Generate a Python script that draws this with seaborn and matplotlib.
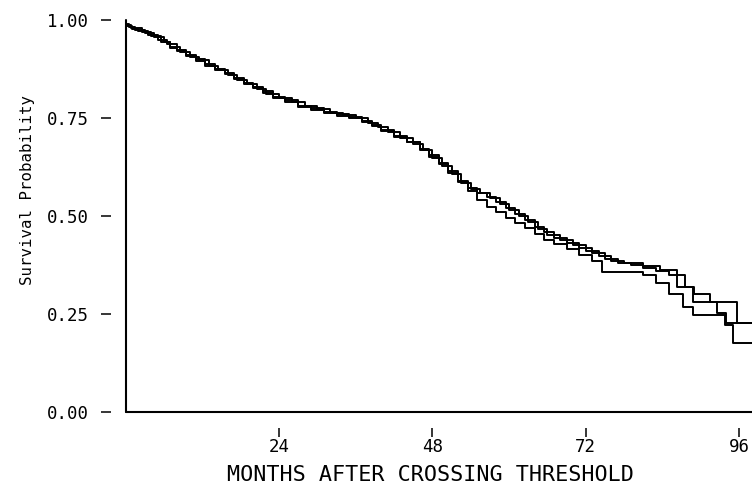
import numpy as np
import matplotlib.pyplot as plt
import pandas as pd
import seaborn as sns

sns.set_style("ticks")
plt.rcParams["font.family"] = ["DejaVu Sans Mono", "DejaVu Sans"]
plt.rcParams["text.color"] = "black"
plt.rcParams["axes.labelcolor"] = "black"
plt.rcParams["xtick.color"] = "black"
plt.rcParams["ytick.color"] = "black"

# survival curves (month, probability), three groups
months_a = [0, 0.5, 1.5, 3, 4.5, 6, 7, 8.5, 10, 11.5, 13, 14.5, 16, 17.5, 19, 20.5, 22, 24, 26, 28,
            30, 32, 34, 36, 38, 39.5, 41, 43, 45, 46.5, 48, 49.5, 51, 52.5, 54, 55.5, 57, 58.5, 60,
            61.5, 63, 64.5, 66, 68, 70, 72, 74, 76, 78, 81, 83.6, 86.2, 88.7, 92.5, 94, 98]
surv_a = [0.99, 0.982, 0.975, 0.968, 0.958, 0.945, 0.932, 0.918, 0.905, 0.897, 0.882, 0.872, 0.86,
          0.848, 0.836, 0.825, 0.812, 0.80, 0.79, 0.78, 0.772, 0.764, 0.757, 0.75, 0.738, 0.727,
          0.715, 0.70, 0.685, 0.668, 0.648, 0.628, 0.607, 0.585, 0.568, 0.558, 0.545, 0.53, 0.515,
          0.50, 0.485, 0.466, 0.452, 0.44, 0.425, 0.412, 0.398, 0.385, 0.38, 0.372, 0.362,
          0.319, 0.28, 0.253, 0.227, 0.227]

months_b = [0, 1, 2, 3.5, 5, 6.5, 8, 9.5, 11, 12.5, 14, 15.5, 17, 18.5, 20, 21.5, 23, 25, 27, 29,
            31, 33, 35, 37, 38.5, 40, 42, 44, 46, 47.5, 49, 50.5, 52, 53.5, 55, 56.5, 58, 59.5,
            61, 62.5, 64, 65.5, 67, 69, 71, 73, 75, 77, 79, 81, 83, 85, 87.5, 89, 91.5, 95.6, 98]
surv_b = [0.985, 0.978, 0.972, 0.962, 0.95, 0.938, 0.925, 0.91, 0.9, 0.888, 0.876, 0.865, 0.852,
          0.84, 0.83, 0.818, 0.805, 0.795, 0.782, 0.775, 0.766, 0.76, 0.752, 0.742, 0.732, 0.72,
          0.705, 0.69, 0.672, 0.655, 0.635, 0.615, 0.59, 0.572, 0.56, 0.548, 0.535, 0.52, 0.505,
          0.49, 0.472, 0.458, 0.445, 0.432, 0.418, 0.405, 0.39, 0.38, 0.375, 0.368, 0.36, 0.35,
          0.32, 0.30, 0.28, 0.227, 0.227]

months_c = [0, 0.8, 2.5, 4, 5.5, 7, 8, 9.5, 11, 12.5, 14, 15.5, 17, 18.5, 20, 21.5, 23, 25, 27, 29,
            31, 33, 35, 37, 38.5, 40, 42, 44, 46, 47.5, 49, 50.5, 52, 53.5, 55, 56.5, 58, 59.5,
            61, 62.5, 64, 65.5, 67, 69, 71, 73, 74.5, 81, 83, 85, 87.2, 88.7, 93.7, 95, 98]
surv_c = [0.988, 0.98, 0.97, 0.96, 0.945, 0.93, 0.922, 0.908, 0.896, 0.884, 0.872, 0.862, 0.85,
          0.838, 0.826, 0.815, 0.802, 0.79, 0.779, 0.77, 0.763, 0.756, 0.75, 0.74, 0.73, 0.718,
          0.702, 0.688, 0.668, 0.65, 0.632, 0.61, 0.586, 0.565, 0.54, 0.523, 0.51, 0.495, 0.482,
          0.47, 0.455, 0.44, 0.428, 0.415, 0.4, 0.385, 0.357, 0.35, 0.33, 0.30, 0.268, 0.247,
          0.222, 0.176, 0.176]

xticks = [24, 48, 72, 96]
yticks = [0.00, 0.25, 0.50, 0.75, 1.00]

df = pd.concat([
    pd.DataFrame({"month": months_a, "surv": surv_a, "group": "A"}),
    pd.DataFrame({"month": months_b, "surv": surv_b, "group": "B"}),
    pd.DataFrame({"month": months_c, "surv": surv_c, "group": "C"}),
])

fig = plt.figure(figsize=(7.52, 4.91), dpi=100)
ax = fig.add_axes([0.167, 0.161, 0.833, 0.798])

sns.lineplot(data=df, x="month", y="surv", hue="group", palette=["black"] * 3,
             estimator=None, sort=False, drawstyle="steps-post", linewidth=1.4,
             legend=False, ax=ax)

ax.set_xlim(0, 98)
ax.set_ylim(0, 1)

# axis lines at zero, tick marks sit apart from them (plotter style)
ax.axhline(0, color="black", lw=1.5, clip_on=False)
ax.axvline(0, color="black", lw=1.5, clip_on=False)
for s in ["top", "right", "left", "bottom"]:
    ax.spines[s].set_visible(False)
ax.spines["left"].set_position(("outward", 10.8))
ax.spines["bottom"].set_position(("outward", 11.5))

ax.set_xticks(xticks)
ax.set_yticks(yticks)
ax.set_yticklabels([f"{v:.2f}" for v in yticks])
ax.tick_params(axis="y", direction="out", length=7.2, width=1.1, pad=8.5, labelsize=12.5)
ax.tick_params(axis="x", direction="out", length=6.5, width=1.1, pad=1, labelsize=12.5)

ax.set_xlabel("MONTHS AFTER CROSSING THRESHOLD", fontsize=15.7)
ax.xaxis.set_label_coords(0.486, -0.135)
ax.set_ylabel("Survival Probability", fontsize=11.3)
ax.yaxis.set_label_coords(-0.144, 0.566)

fig.savefig("out.png", dpi=100)
